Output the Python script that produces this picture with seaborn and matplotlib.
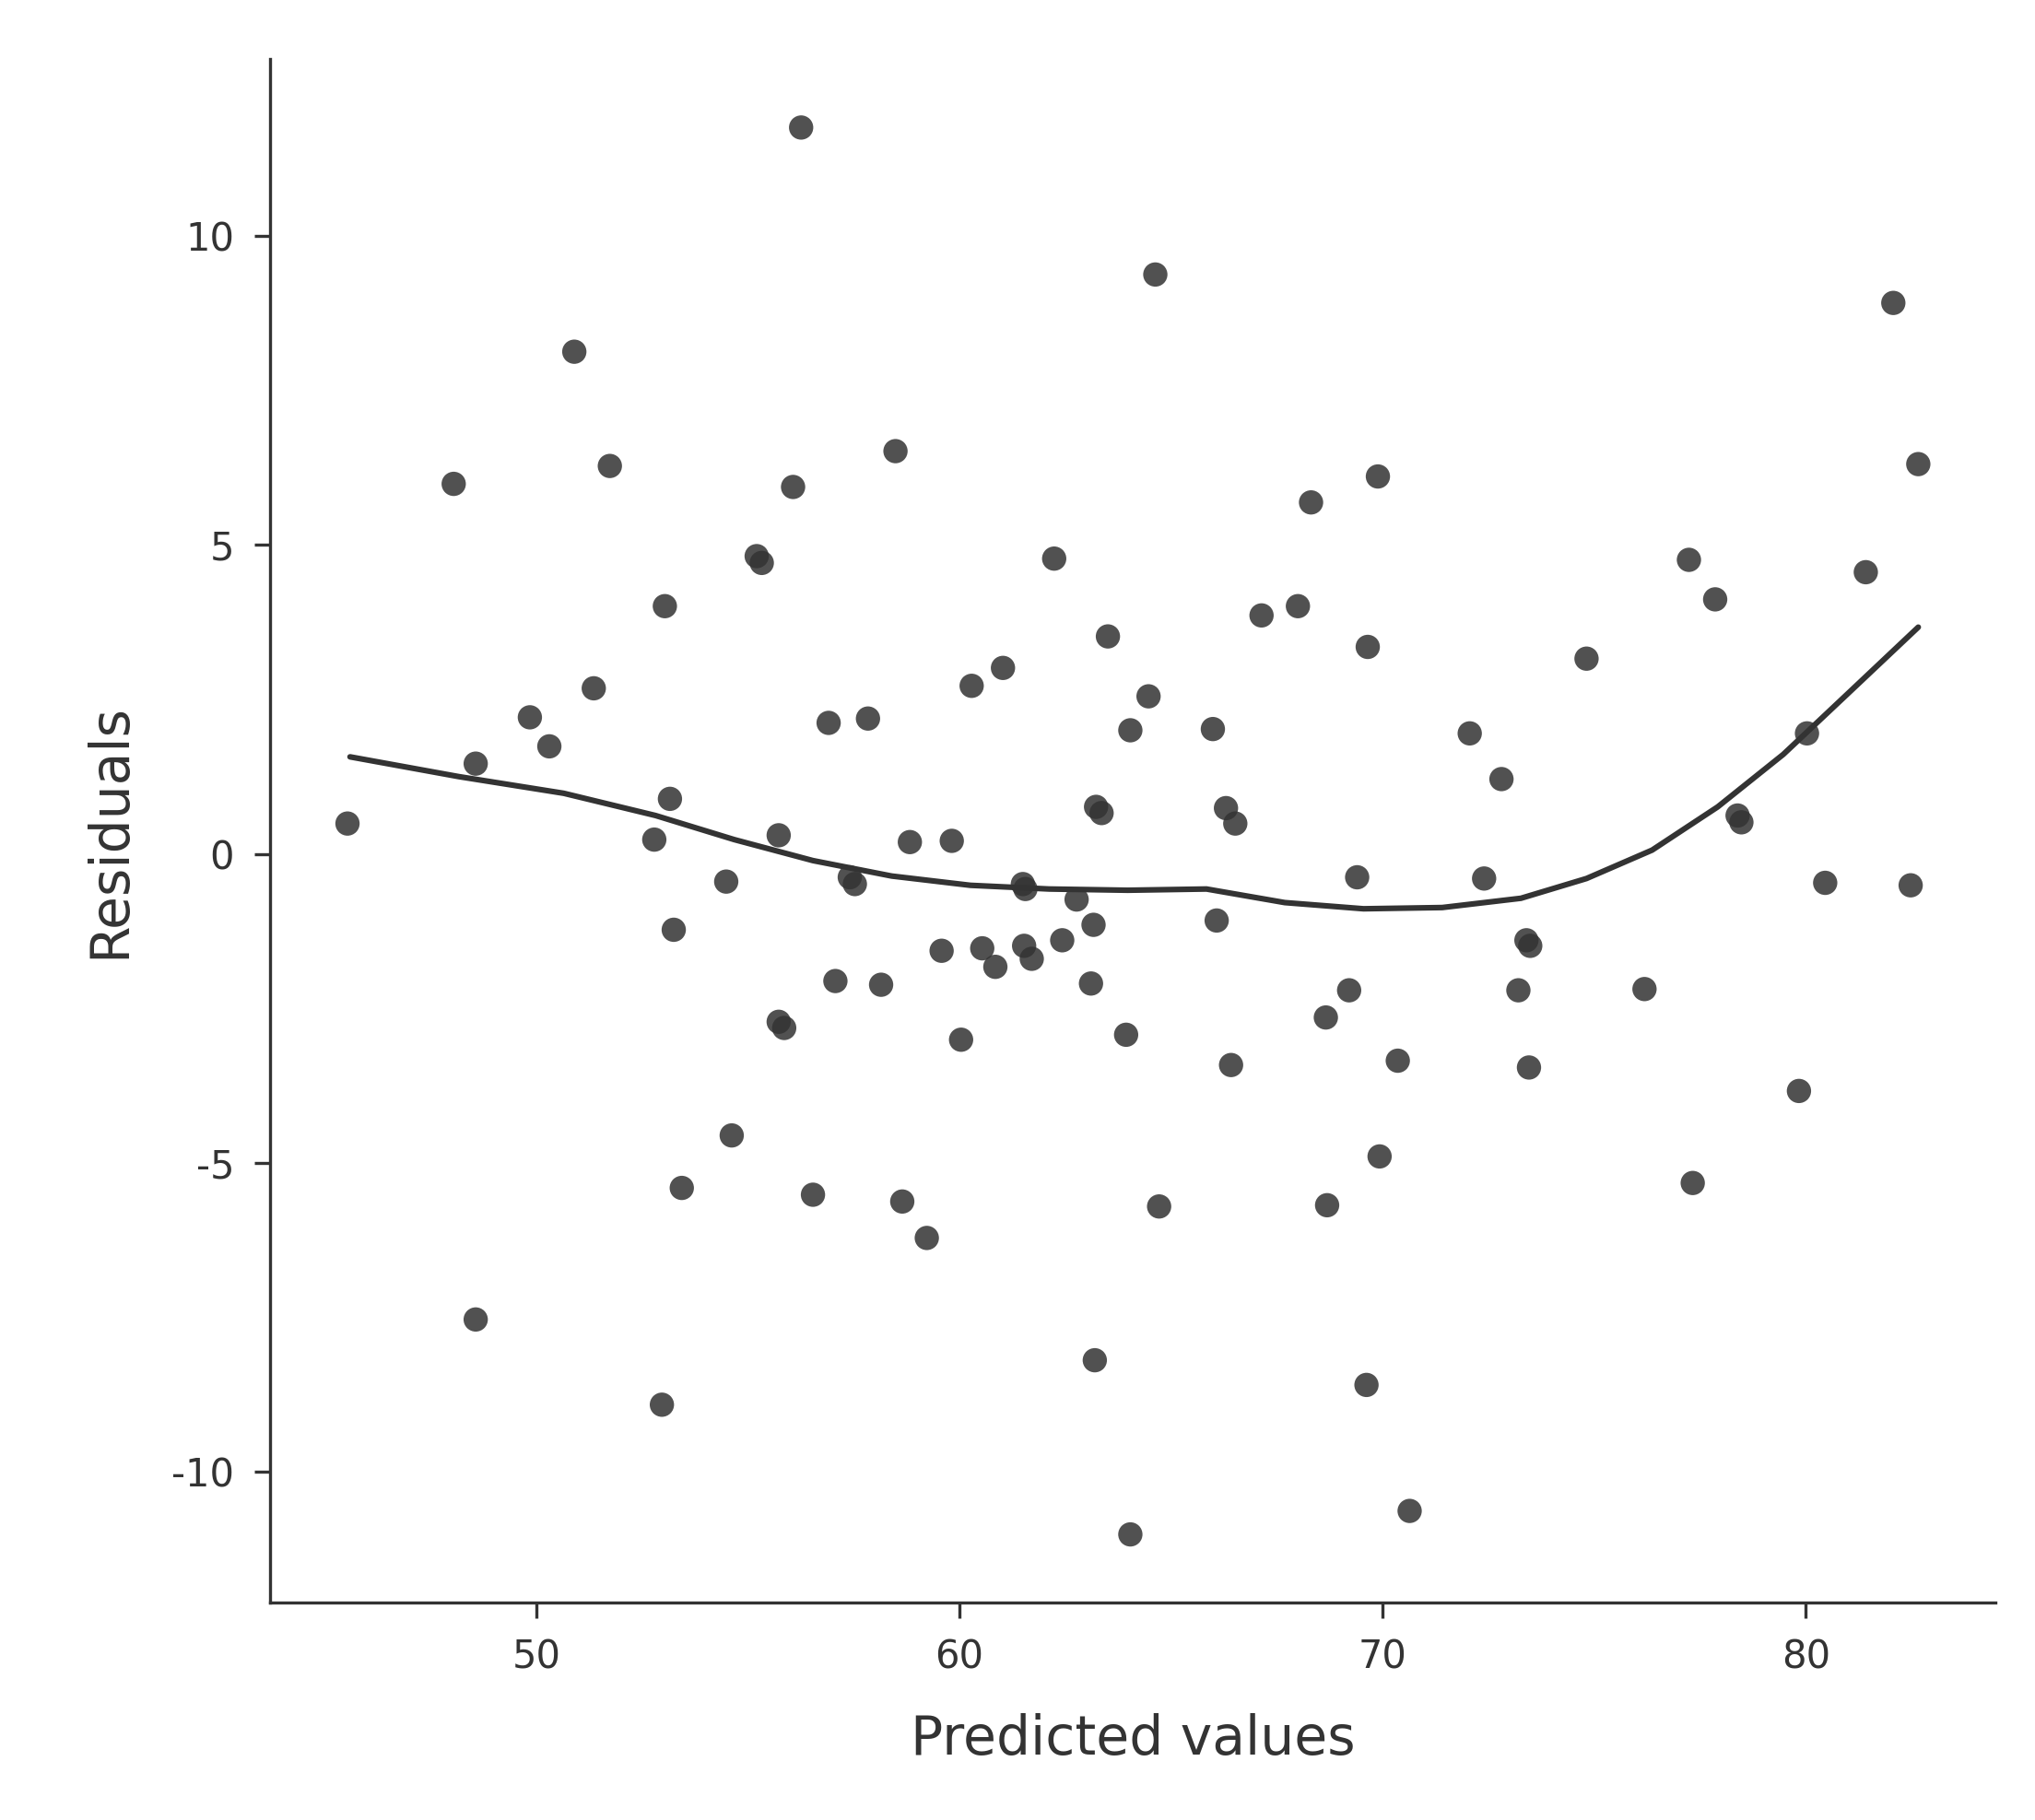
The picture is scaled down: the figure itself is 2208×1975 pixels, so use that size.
import numpy as np
import pandas as pd
import matplotlib
matplotlib.use("Agg")
import matplotlib.pyplot as plt
import seaborn as sns

# residual scatter, values
predicted = [45.54, 48.05, 48.57, 48.57, 49.85, 50.31, 50.90, 51.36, 51.74, 52.79,
             52.97, 53.04, 53.16, 53.25, 53.44, 54.49, 54.62, 55.21, 55.33, 55.73,
             55.73, 55.86, 56.07, 56.26, 56.54, 56.91, 57.07, 57.41, 57.53, 57.84,
             58.15, 58.49, 58.65, 58.83, 59.23, 59.58, 59.82, 60.04, 60.29, 60.54,
             60.85, 61.03, 61.50, 61.56, 61.53, 61.71, 62.24, 62.43, 62.77, 63.11,
             63.17, 63.23, 63.36, 63.20, 63.51, 63.94, 64.04, 64.04, 64.47, 64.63,
             64.72, 65.99, 66.08, 66.30, 66.42, 66.52, 67.14, 68.00, 68.31, 68.66,
             68.69, 69.21, 69.40, 69.65, 69.62, 69.89, 69.93, 70.36, 70.64, 72.06,
             72.40, 72.81, 73.21, 73.40, 73.49, 73.46, 74.82, 76.19, 77.24, 77.33,
             77.86, 78.39, 78.48, 79.84, 80.03, 80.46, 81.42, 82.07, 82.48, 82.66]
residuals = [0.49, 5.99, 1.46, -7.54, 2.21, 1.74, 8.13, 2.68, 6.28, 0.23,
             -8.92, 4.01, 0.89, -1.23, -5.41, -0.45, -4.56, 4.82, 4.71, 0.30,
             -2.72, -2.82, 5.94, 11.76, -5.52, 2.12, -2.06, -0.38, -0.49, 2.19,
             -2.12, 6.52, -5.63, 0.19, -6.22, -1.57, 0.21, -3.01, 2.72, -1.53,
             -1.83, 3.01, -0.49, -0.57, -1.49, -1.70, 4.78, -1.40, -0.74, -2.10,
             -1.15, 0.76, 0.66, -8.20, 3.52, -2.93, 2.00, -11.02, 2.55, 9.38,
             -5.71, 2.02, -1.08, 0.74, -3.42, 0.49, 3.86, 4.01, 5.69, -2.65,
             -5.69, -2.21, -0.38, 3.35, -8.60, 6.11, -4.90, -3.35, -10.64, 1.95,
             -0.40, 1.21, -2.21, -1.40, -1.49, -3.46, 3.16, -2.19, 4.76, -5.33,
             4.12, 0.62, 0.51, -3.84, 1.95, -0.47, 4.56, 8.92, -0.51, 6.31]

# smoother curve as drawn in the reference
smooth_x = [45.60, 48.17, 50.65, 52.82, 54.68, 56.54, 58.40, 60.26, 62.12, 63.98, 65.84,
            67.69, 69.55, 71.41, 73.27, 74.82, 76.37, 77.92, 79.47, 81.02, 82.66]
smooth_y = [1.57, 1.25, 0.98, 0.62, 0.23, -0.11, -0.36, -0.51, -0.57, -0.59, -0.57,
            -0.79, -0.89, -0.87, -0.72, -0.40, 0.06, 0.76, 1.61, 2.61, 3.67]

sns.set_theme(style="ticks")
plt.rcParams["font.family"] = ["DejaVu Sans"]
plt.rcParams["axes.unicode_minus"] = False

INK = "#333333"

fig = plt.figure(figsize=(11.04, 9.875), dpi=200)
ax = fig.add_axes([0.1327, 0.1196, 0.848, 0.848])

df = pd.DataFrame({"pred": predicted, "resid": residuals})
sns.scatterplot(data=df, x="pred", y="resid", ax=ax, s=90, color=INK,
                alpha=0.85, edgecolor="none")
sns.lineplot(x=smooth_x, y=smooth_y, ax=ax, color=INK, linewidth=2.2, sort=False)

ax.set_xlim(43.71, 84.49)
ax.set_ylim(-12.12, 12.87)
ax.set_xticks([50, 60, 70, 80])
ax.set_yticks([-10, -5, 0, 5, 10])
ax.set_xlabel("Predicted values", fontsize=21, color=INK, labelpad=14)
ax.set_ylabel("Residuals", fontsize=21, color=INK, labelpad=14)
ax.tick_params(labelsize=15, colors=INK, length=6, width=1.2, pad=8)
for side in ["top", "right"]:
    ax.spines[side].set_visible(False)
for side in ["left", "bottom"]:
    ax.spines[side].set_color(INK)
    ax.spines[side].set_linewidth(1.2)

fig.savefig("out.png", dpi=200)
